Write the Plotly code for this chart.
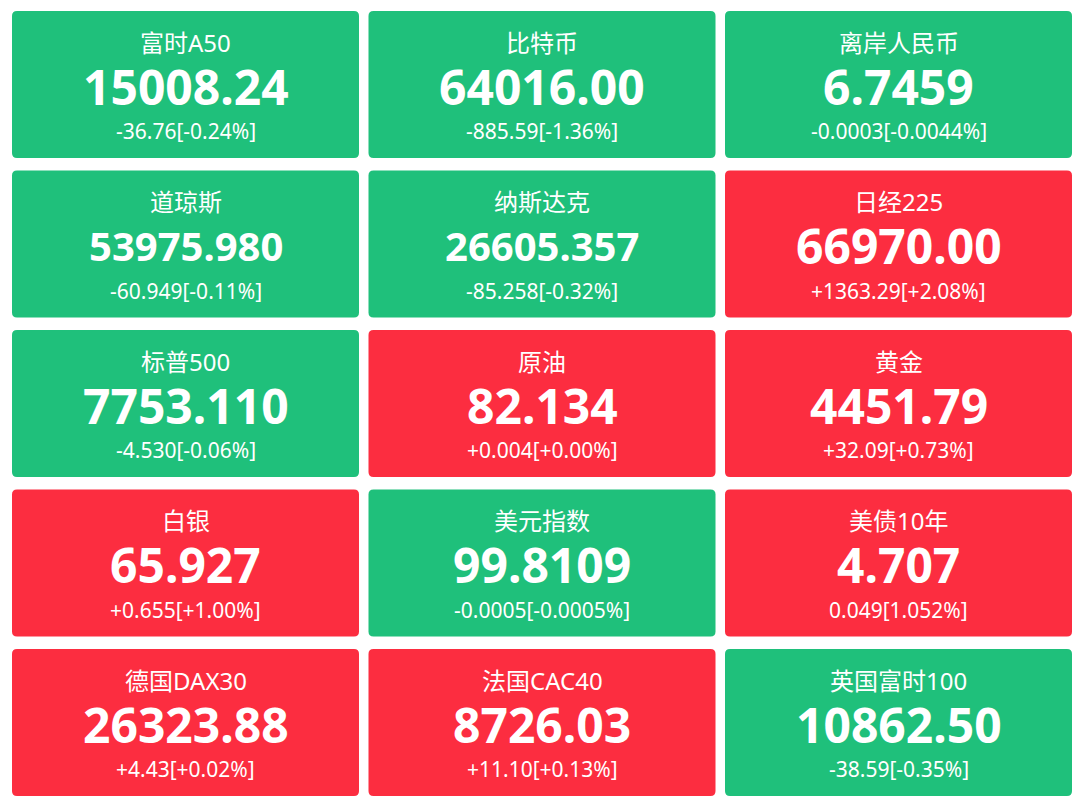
import plotly.graph_objects as go

# Market tiles, read row by row (3 per row)
names   = ["富时A50", "比特币", "离岸人民币",
           "道琼斯", "纳斯达克", "日经225",
           "标普500", "原油", "黄金",
           "白银", "美元指数", "美债10年",
           "德国DAX30", "法国CAC40", "英国富时100"]
prices  = ["15008.24", "64016.00", "6.7459",
           "53975.980", "26605.357", "66970.00",
           "7753.110", "82.134", "4451.79",
           "65.927", "99.8109", "4.707",
           "26323.88", "8726.03", "10862.50"]
changes = ["-36.76", "-885.59", "-0.0003",
           "-60.949", "-85.258", "+1363.29",
           "-4.530", "+0.004", "+32.09",
           "+0.655", "-0.0005", "0.049",
           "+4.43", "+11.10", "-38.59"]
pcts    = ["-0.24%", "-1.36%", "-0.0044%",
           "-0.11%", "-0.32%", "+2.08%",
           "-0.06%", "+0.00%", "+0.73%",
           "+1.00%", "-0.0005%", "1.052%",
           "+0.02%", "+0.13%", "-0.35%"]

UP   = "#fc2d40"
DOWN = "#1fc07b"
FONT = "Noto Sans, Noto Sans CJK SC, sans-serif"

W, H     = 1080, 805
n_cols   = 3
left, top = 12, 11
step_x, step_y = 356.5, 159.5
tile_w, tile_h = 347, 147
r = 5  # corner radius


def rounded_rect(x0, y0, x1, y1, r):
    return (f"M{x0 + r},{y0} L{x1 - r},{y0} Q{x1},{y0} {x1},{y0 + r} "
            f"L{x1},{y1 - r} Q{x1},{y1} {x1 - r},{y1} "
            f"L{x0 + r},{y1} Q{x0},{y1} {x0},{y1 - r} "
            f"L{x0},{y0 + r} Q{x0},{y0} {x0 + r},{y0} Z")


fig = go.Figure()
shapes, annotations = [], []

for i, name in enumerate(names):
    row, col = divmod(i, n_cols)
    x0 = left + col * step_x
    y0 = top + row * step_y
    xc = x0 + tile_w / 2
    color = DOWN if changes[i].startswith("-") else UP
    # long prices get shrunk so they fit the tile
    price_size = 48 if len(prices[i]) <= 8 else 40

    shapes.append(dict(
        type      = "path",
        path      = rounded_rect(x0, y0, x0 + tile_w, y0 + tile_h, r),
        fillcolor = color,
        line      = dict(width=0),
        layer     = "below",
    ))
    annotations += [
        dict(x=xc, y=y0 + 31, text=name,
             font=dict(family=FONT, size=24, color="white")),
        dict(x=xc, y=y0 + 75, text=prices[i],
             font=dict(family=FONT, size=price_size, color="white", weight="bold")),
        dict(x=xc, y=y0 + 120, text=f"{changes[i]}[{pcts[i]}]",
             font=dict(family=FONT, size=21, color="white")),
    ]

for a in annotations:
    a.update(xref="x", yref="y", showarrow=False, xanchor="center", yanchor="middle")

fig.update_layout(
    width         = W,
    height        = H,
    margin        = dict(l=0, r=0, t=0, b=0),
    paper_bgcolor = "white",
    plot_bgcolor  = "white",
    xaxis         = dict(range=[0, W], visible=False, fixedrange=True),
    yaxis         = dict(range=[H, 0], visible=False, fixedrange=True),
    shapes        = shapes,
    annotations   = annotations,
    showlegend    = False,
)

fig.write_html("out.html", config={"displayModeBar": False},
               post_script="document.body.style.margin='0';")
